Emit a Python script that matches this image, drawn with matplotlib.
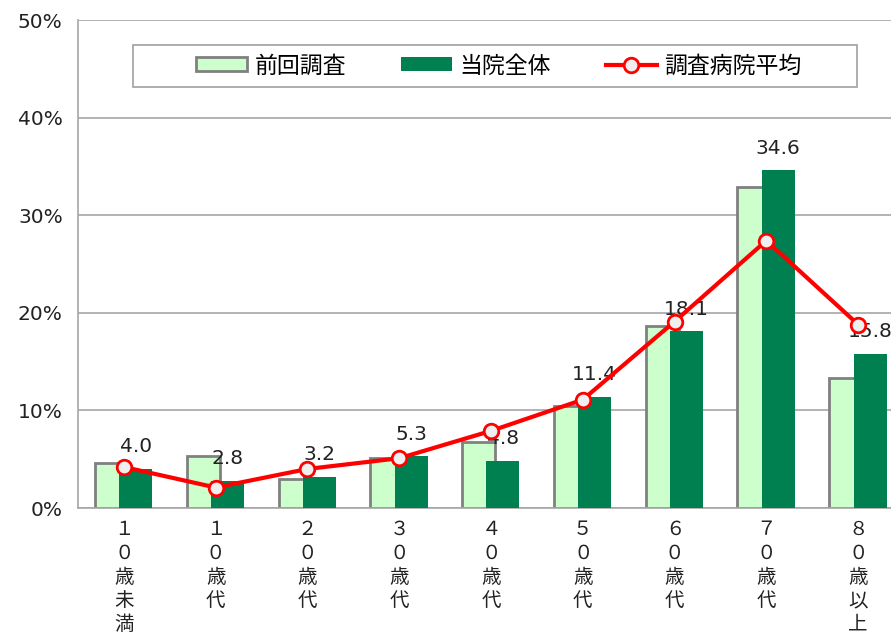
import numpy as np
import matplotlib
matplotlib.use("Agg")
from matplotlib import pyplot as plt
from matplotlib.patches import Patch, Rectangle
from matplotlib.lines import Line2D

plt.rcParams['font.family'] = ['Noto Sans CJK JP', 'DejaVu Sans']

categories = ["１\n０\n歳\n未\n満", "１\n０\n歳\n代", "２\n０\n歳\n代", "３\n０\n歳\n代",
              "４\n０\n歳\n代", "５\n０\n歳\n代", "６\n０\n歳\n代", "７\n０\n歳\n代",
              "８\n０\n歳\n以\n上"]
prev_survey = [4.6, 5.3, 3.0, 5.1, 6.8, 10.4, 18.6, 32.9, 13.3]   # 前回調査
this_hospital = [4.0, 2.8, 3.2, 5.3, 4.8, 11.4, 18.1, 34.6, 15.8]  # 当院全体
survey_avg = [4.2, 2.1, 4.0, 5.1, 7.9, 11.1, 19.1, 27.4, 18.8]     # 調査病院平均
y_ticks = [0, 10, 20, 30, 40, 50]
series_names = ["前回調査", "当院全体", "調査病院平均"]

light_green = "#CCFFCC"
dark_green = "#008050"
grid_gray = "#A6A6A6"

fig = plt.figure(figsize=(8.91, 6.38), dpi=100)
ax = fig.add_axes([78 / 891, 130 / 638, 826 / 891, 488 / 638])

x = np.arange(len(categories))
ax.bar(x - 0.135, prev_survey, width=0.36, color=light_green,
       edgecolor="#808080", linewidth=2, zorder=2)
ax.bar(x + 0.13, this_hospital, width=0.36, color=dark_green, zorder=3)
ax.plot(x, survey_avg, color="#FF0000", linewidth=3, marker="o", markersize=10.5,
        markerfacecolor="#EFEFEF", markeredgecolor="#FF0000", markeredgewidth=2,
        zorder=6)

for xi, v in zip(x, this_hospital):
    ax.annotate(f"{v:.1f}", (xi + 0.13, v), xytext=(0, 16), textcoords="offset points",
                ha="center", va="center", fontsize=14.5, color="#222222",
                family=["DejaVu Sans"], zorder=5)

ax.set_xlim(-0.5, len(categories) - 0.5)
ax.set_ylim(0, 50)
ax.set_yticks(y_ticks)
ax.set_yticklabels([f"{t}%" for t in y_ticks], fontsize=14.5, family=["DejaVu Sans"],
                   color="#222222")
ax.set_xticks(x)
ax.set_xticklabels(categories, fontsize=14, linespacing=1.17, va="top", color="#222222")
ax.tick_params(axis="x", length=0, pad=8)
ax.tick_params(axis="y", length=0, pad=11)

ax.grid(axis="y", color=grid_gray, linewidth=1.2, zorder=0)
ax.set_axisbelow(True)
for side in ["top", "right"]:
    ax.spines[side].set_visible(False)
ax.spines["left"].set_color(grid_gray)
ax.spines["bottom"].set_color(grid_gray)
ax.spines["left"].set_linewidth(1.2)
ax.spines["bottom"].set_linewidth(1.2)

# legend box drawn separately so its size can match
fig.patches.append(Rectangle((133 / 891, 1 - 87 / 638), 724 / 891, 42 / 638,
                             transform=fig.transFigure, facecolor="white",
                             edgecolor="#A0A0A0", linewidth=1.2, zorder=1))

handles = [
    Patch(facecolor=light_green, edgecolor="#808080", linewidth=2),
    Patch(facecolor=dark_green),
    Line2D([0], [0], color="#FF0000", linewidth=3, marker="o", markersize=10.5,
           markerfacecolor="#EFEFEF", markeredgecolor="#FF0000", markeredgewidth=2),
]
leg = fig.legend(handles, series_names, ncol=3, loc="center",
                 bbox_to_anchor=(499 / 891, 1 - 66 / 638), fontsize=16.5,
                 frameon=False, handlelength=2.2, handleheight=0.55,
                 columnspacing=2.4, handletextpad=0.35)

fig.savefig("out.png", dpi=100)
